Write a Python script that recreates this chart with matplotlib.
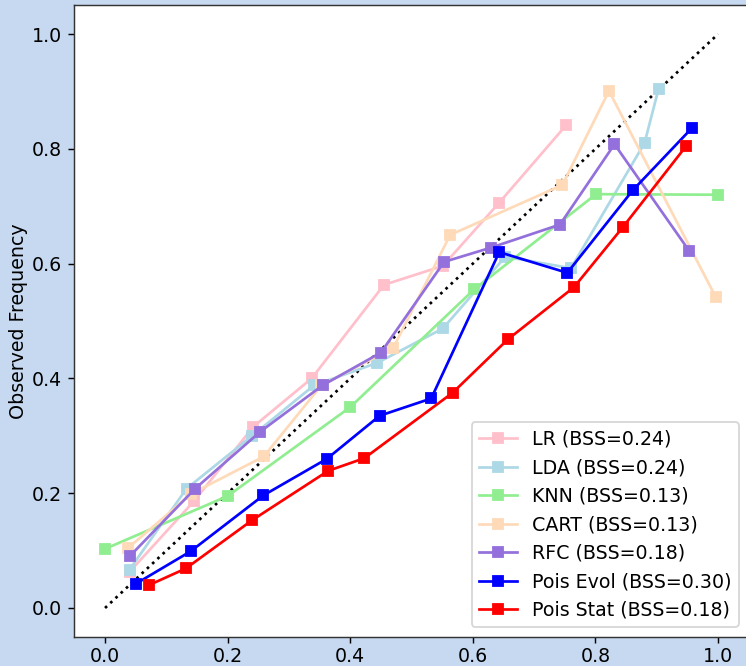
import matplotlib
matplotlib.use("Agg")
import matplotlib.pyplot as plt

# predicted probability (x) / observed frequency (y) per model
lr_x = [0.040, 0.145, 0.242, 0.337, 0.455, 0.551, 0.642, 0.752]
lr_y = [0.063, 0.186, 0.316, 0.400, 0.563, 0.596, 0.705, 0.841]

lda_x = [0.040, 0.133, 0.240, 0.341, 0.444, 0.551, 0.653, 0.760, 0.880, 0.903]
lda_y = [0.067, 0.208, 0.300, 0.388, 0.427, 0.487, 0.612, 0.592, 0.810, 0.905]

knn_x = [0.000, 0.200, 0.400, 0.602, 0.801, 1.000]
knn_y = [0.103, 0.195, 0.350, 0.555, 0.721, 0.720]

cart_x = [0.037, 0.141, 0.259, 0.353, 0.470, 0.563, 0.746, 0.822, 0.996]
cart_y = [0.104, 0.199, 0.264, 0.388, 0.453, 0.650, 0.737, 0.901, 0.542]

rfc_x = [0.041, 0.147, 0.253, 0.355, 0.450, 0.553, 0.630, 0.742, 0.831, 0.953]
rfc_y = [0.091, 0.208, 0.307, 0.388, 0.445, 0.603, 0.628, 0.668, 0.808, 0.622]

evol_x = [0.050, 0.140, 0.258, 0.362, 0.448, 0.532, 0.643, 0.754, 0.861, 0.958]
evol_y = [0.042, 0.099, 0.196, 0.260, 0.335, 0.365, 0.620, 0.584, 0.728, 0.837]

stat_x = [0.072, 0.132, 0.240, 0.364, 0.423, 0.567, 0.657, 0.765, 0.845, 0.948]
stat_y = [0.040, 0.069, 0.153, 0.239, 0.261, 0.375, 0.468, 0.559, 0.664, 0.805]

labels = ["LR", "LDA", "KNN", "CART", "RFC", "Pois Evol", "Pois Stat"]
bss = [0.24, 0.24, 0.13, 0.13, 0.18, 0.30, 0.18]
colors = ["pink", "lightblue", "lightgreen", "peachpuff", "mediumpurple", "blue", "red"]

series = [(lr_x, lr_y), (lda_x, lda_y), (knn_x, knn_y), (cart_x, cart_y),
          (rfc_x, rfc_y), (evol_x, evol_y), (stat_x, stat_y)]

plt.rcParams["font.size"] = 10.5

fig = plt.figure(figsize=(746 / 130, 666 / 130), dpi=130, facecolor="#c6d9f0")
ax = fig.add_axes([0.0997, 0.044, 0.904, 0.948])
ax.set_facecolor("white")
for s in ax.spines.values():
    s.set_color("#333333")

ax.plot([0, 1], [0, 1], "k:")
for (xs, ys), lbl, b, c in zip(series, labels, bss, colors):
    ax.plot(xs, ys, "s-", color=c, label=f"{lbl} (BSS={b:.2f})")

ax.set_xlim(-0.05, 1.05)
ax.set_ylim(-0.05, 1.05)
ax.tick_params(axis="x", pad=2)
ax.set_ylabel("Observed Frequency", labelpad=2)
ax.legend(loc="lower right")

fig.savefig("out.png", dpi=130, facecolor=fig.get_facecolor())
